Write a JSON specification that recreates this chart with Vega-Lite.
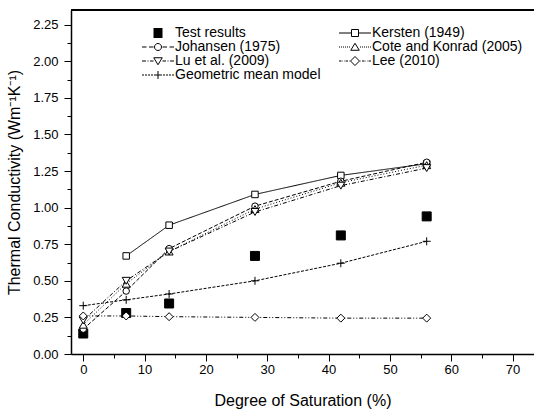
{
  "$schema": "https://vega.github.io/schema/vega-lite/v6.json",
  "width": 463,
  "height": 344,
  "autosize": {"type": "none"},
  "padding": {"left": 71, "top": 10, "right": 0, "bottom": 56},
  "background": "white",
  "config": {
    "font": "Liberation Sans",
    "view": {"stroke": null},
    "axis": {"labelColor": "black", "titleColor": "black", "domainColor": "black", "tickColor": "black", "grid": false, "labelFont": "Liberation Sans", "titleFont": "Liberation Sans", "titleFontWeight": "normal", "labelOverlap": false, "labelFlush": false}
  },
  "data": {
    "values": [
      {"series": "Test results", "sat": 0, "k": 0.14},
      {"series": "Test results", "sat": 7, "k": 0.28},
      {"series": "Test results", "sat": 14, "k": 0.345},
      {"series": "Test results", "sat": 28, "k": 0.67},
      {"series": "Test results", "sat": 42, "k": 0.81},
      {"series": "Test results", "sat": 56, "k": 0.94},
      {"series": "Kersten (1949)", "sat": 7, "k": 0.67},
      {"series": "Kersten (1949)", "sat": 14, "k": 0.88},
      {"series": "Kersten (1949)", "sat": 28, "k": 1.09},
      {"series": "Kersten (1949)", "sat": 42, "k": 1.22},
      {"series": "Kersten (1949)", "sat": 56, "k": 1.30},
      {"series": "Johansen (1975)", "sat": 0, "k": 0.17},
      {"series": "Johansen (1975)", "sat": 7, "k": 0.43},
      {"series": "Johansen (1975)", "sat": 14, "k": 0.72},
      {"series": "Johansen (1975)", "sat": 28, "k": 1.01},
      {"series": "Johansen (1975)", "sat": 42, "k": 1.18},
      {"series": "Johansen (1975)", "sat": 56, "k": 1.31},
      {"series": "Cote and Konrad (2005)", "sat": 0, "k": 0.20},
      {"series": "Cote and Konrad (2005)", "sat": 7, "k": 0.48},
      {"series": "Cote and Konrad (2005)", "sat": 14, "k": 0.70},
      {"series": "Cote and Konrad (2005)", "sat": 28, "k": 0.99},
      {"series": "Cote and Konrad (2005)", "sat": 42, "k": 1.17},
      {"series": "Cote and Konrad (2005)", "sat": 56, "k": 1.29},
      {"series": "Lu et al. (2009)", "sat": 0, "k": 0.23},
      {"series": "Lu et al. (2009)", "sat": 7, "k": 0.50},
      {"series": "Lu et al. (2009)", "sat": 14, "k": 0.70},
      {"series": "Lu et al. (2009)", "sat": 28, "k": 0.97},
      {"series": "Lu et al. (2009)", "sat": 42, "k": 1.15},
      {"series": "Lu et al. (2009)", "sat": 56, "k": 1.27},
      {"series": "Lee (2010)", "sat": 0, "k": 0.26},
      {"series": "Lee (2010)", "sat": 7, "k": 0.26},
      {"series": "Lee (2010)", "sat": 14, "k": 0.255},
      {"series": "Lee (2010)", "sat": 28, "k": 0.25},
      {"series": "Lee (2010)", "sat": 42, "k": 0.245},
      {"series": "Lee (2010)", "sat": 56, "k": 0.245},
      {"series": "Geometric mean model", "sat": 0, "k": 0.33},
      {"series": "Geometric mean model", "sat": 7, "k": 0.37},
      {"series": "Geometric mean model", "sat": 14, "k": 0.41},
      {"series": "Geometric mean model", "sat": 28, "k": 0.50},
      {"series": "Geometric mean model", "sat": 42, "k": 0.62},
      {"series": "Geometric mean model", "sat": 56, "k": 0.77}
    ]
  },
  "layer": [
    {
      "layer": [
        {
          "mark": {"type": "rule", "stroke": "black", "strokeWidth": 1.5},
          "encoding": {
            "y": {"datum": 2.35, "type": "quantitative", "scale": {"domain": [0, 2.35], "nice": false, "zero": false}}
          }
        },
        {
          "transform": [{"filter": "datum.series != 'Test results'"}],
          "mark": {"type": "line", "stroke": "black", "strokeWidth": 1},
          "encoding": {
            "x": {
              "field": "sat", "type": "quantitative",
              "scale": {"domain": [-2, 73.5], "nice": false, "zero": false},
              "axis": {
                "orient": "bottom",
                "title": "Degree of Saturation (%)",
                "values": [0, 10, 20, 30, 40, 50, 60, 70],
                "tickSize": 7, "tickWidth": 1, "domainWidth": 1.5, "labelFontSize": 13, "titleFontSize": 16,
                "labelPadding": 2, "titlePadding": 16, "labelOverlap": false, "grid": false
              }
            },
            "y": {
              "field": "k", "type": "quantitative",
              "scale": {"domain": [0, 2.35], "nice": false, "zero": false},
              "axis": {
                "orient": "left",
                "title": "Thermal Conductivity (Wm⁻¹K⁻¹)",
                "values": [0, 0.5, 1, 1.5, 2],
                "format": ".2f",
                "tickSize": 7, "tickWidth": 1, "domainWidth": 1.5, "labelFontSize": 13, "titleFontSize": 16,
                "labelPadding": 6, "titlePadding": 10, "labelOverlap": false, "grid": false
              }
            },
            "strokeDash": {
              "field": "series", "type": "nominal",
              "scale": {
                "domain": ["Kersten (1949)", "Johansen (1975)", "Cote and Konrad (2005)", "Lu et al. (2009)", "Lee (2010)", "Geometric mean model"],
                "range": [[1, 0], [4, 2], [1, 2], [4, 2, 1, 2], [4, 2, 1, 2, 1, 2], [3, 1.5]]
              },
              "legend": null
            }
          }
        },
        {
          "transform": [{"filter": "datum.series == 'Test results'"}],
          "mark": {"type": "point", "shape": "square", "filled": true, "fill": "black", "stroke": "black", "strokeWidth": 1, "size": 81, "opacity": 1},
          "encoding": {
            "x": {"field": "sat", "type": "quantitative", "scale": {"domain": [-2, 73.5], "nice": false, "zero": false}},
            "y": {"field": "k", "type": "quantitative", "scale": {"domain": [0, 2.35], "nice": false, "zero": false}}
          }
        },
        {
          "transform": [{"filter": "datum.series == 'Kersten (1949)' || datum.series == 'Johansen (1975)'"}],
          "mark": {"type": "point", "filled": true, "fill": "white", "stroke": "black", "strokeWidth": 1, "size": 42, "opacity": 1},
          "encoding": {
            "x": {"field": "sat", "type": "quantitative", "scale": {"domain": [-2, 73.5], "nice": false, "zero": false}},
            "y": {"field": "k", "type": "quantitative", "scale": {"domain": [0, 2.35], "nice": false, "zero": false}},
            "shape": {
              "field": "series", "type": "nominal",
              "scale": {"domain": ["Kersten (1949)", "Johansen (1975)"], "range": ["square", "circle"]},
              "legend": null
            }
          }
        },
        {
          "transform": [{"filter": "datum.series != 'Test results' && datum.series != 'Kersten (1949)' && datum.series != 'Johansen (1975)'"}],
          "mark": {"type": "point", "filled": true, "fill": "white", "stroke": "black", "strokeWidth": 1, "size": 64, "opacity": 1},
          "encoding": {
            "x": {"field": "sat", "type": "quantitative", "scale": {"domain": [-2, 73.5], "nice": false, "zero": false}},
            "y": {"field": "k", "type": "quantitative", "scale": {"domain": [0, 2.35], "nice": false, "zero": false}},
            "shape": {
              "field": "series", "type": "nominal",
              "scale": {"domain": ["Cote and Konrad (2005)", "Lu et al. (2009)", "Lee (2010)", "Geometric mean model"], "range": ["triangle-up", "triangle-down", "diamond", "M-1,0H1M0,-1V1"]},
              "legend": null
            }
          }
        },
        {
          "mark": {"type": "point", "filled": false, "stroke": "black", "strokeWidth": 1, "opacity": 0},
          "encoding": {
            "x": {"field": "sat", "type": "quantitative", "scale": {"domain": [-2, 73.5], "nice": false, "zero": false}},
            "y": {"field": "k", "type": "quantitative", "scale": {"domain": [0, 2.35], "nice": false, "zero": false}},
            "shape": {
              "field": "series", "type": "nominal",
              "scale": {
                "domain": ["Test results", "Kersten (1949)", "Johansen (1975)", "Cote and Konrad (2005)", "Lu et al. (2009)", "Lee (2010)", "Geometric mean model"],
                "range": [
                  "M-3.2,0M3.2,0M-0.9,-0.9H0.9M-0.9,-0.7H0.9M-0.9,-0.5H0.9M-0.9,-0.3H0.9M-0.9,-0.1H0.9M-0.9,0.1H0.9M-0.9,0.3H0.9M-0.9,0.5H0.9M-0.9,0.7H0.9M-0.9,0.9H0.9",
                  "M-3.2,0H-0.7M0.7,0H3.2M-0.7,-0.7H0.7V0.7H-0.7Z",
                  "M-3.2,0H-2.3M-1.8,0H-0.9M0.9,0H1.8M2.3,0H3.2M-0.7,0A0.7,0.7,0,1,1,0.7,0A0.7,0.7,0,1,1,-0.7,0Z",
                  "M-3.2,0H-3M-2.8,0H-2.6M-2.4,0H-2.2M-2,0H-1.8M-1.6,0H-1.4M-1.2,0H-1M1,0H1.2M1.4,0H1.6M1.8,0H2M2.2,0H2.4M2.6,0H2.8M3,0H3.2M0,-0.75L0.85,0.65L-0.85,0.65Z",
                  "M-3.2,0H-2.4M-2.1,0H-1.9M-1.6,0H-0.9M0.9,0H1.6M1.9,0H2.1M2.4,0H3.2M0,0.75L0.85,-0.65L-0.85,-0.65Z",
                  "M-3.2,0H-2.7M-2.5,0H-2.4M-2.2,0H-2.1M-1.9,0H-1.4M-1.2,0H-1.1M1.1,0H1.2M1.4,0H1.9M2.1,0H2.2M2.4,0H2.5M2.7,0H3.2M-0.9,0L0,-0.9L0.9,0L0,0.9Z",
                  "M-3.2,0H-2.8M-2.6,0H-2.2M-2,0H-1.6M-1.4,0H-1M-0.8,0H0.8M1,0H1.4M1.6,0H2M2.2,0H2.6M2.8,0H3.2M0,-0.8V0.8"
                ]
              },
              "legend": {
                "title": null, "orient": "none", "legendX": 80, "legendY": 16, "columns": 2, "direction": "horizontal", "columnPadding": 16, "rowPadding": 0, "padding": 0,
                "symbolSize": 100, "symbolStrokeWidth": 1, "symbolOffset": 0, "labelOffset": 10, "symbolOpacity": 1,
                "symbolFillColor": "transparent", "symbolStrokeColor": "black",
                "labelFontSize": 14, "labelFont": "Liberation Sans", "labelColor": "black", "labelLimit": 400
              }
            }
          }
        }
      ],
      "resolve": {"scale": {"shape": "independent"}}
    },
    {
      "mark": {"type": "point", "opacity": 0},
      "encoding": {
        "x": {
          "field": "sat", "type": "quantitative",
          "scale": {"domain": [-2, 73.5], "nice": false, "zero": false},
          "axis": {"orient": "bottom", "values": [5, 15, 25, 35, 45, 55, 65], "labels": false, "domain": false, "tickSize": 4, "tickWidth": 1, "title": null, "grid": false}
        },
        "y": {
          "field": "k", "type": "quantitative",
          "scale": {"domain": [0, 2.35], "nice": false, "zero": false},
          "axis": {"orient": "left", "values": [0.25, 0.75, 1.25, 1.75, 2.25], "format": ".2f", "labels": true, "domain": false, "tickSize": 7, "tickWidth": 1, "labelFontSize": 13, "labelPadding": 6, "labelOverlap": false, "title": null, "grid": false}
        }
      }
    },
    {
      "mark": {"type": "point", "opacity": 0},
      "encoding": {
        "x": {"field": "sat", "type": "quantitative", "scale": {"domain": [-2, 73.5], "nice": false, "zero": false}, "axis": null},
        "y": {
          "field": "k", "type": "quantitative",
          "scale": {"domain": [0, 2.35], "nice": false, "zero": false},
          "axis": {"orient": "left", "values": [0.125, 0.375, 0.625, 0.875, 1.125, 1.375, 1.625, 1.875, 2.125], "labels": false, "domain": false, "tickSize": 4, "tickWidth": 1, "title": null, "grid": false}
        }
      }
    }
  ],
  "resolve": {"axis": {"x": "independent", "y": "independent"}}
}
